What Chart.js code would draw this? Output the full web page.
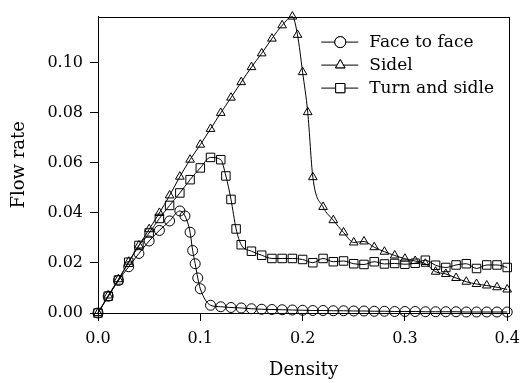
<!DOCTYPE html>
<html>
<head>
<meta charset="utf-8">
<script src="https://cdn.jsdelivr.net/npm/chart.js@4/dist/chart.umd.min.js"></script>
<style>
  body { margin: 0; background: #fff; }
  #wrap { width: 528px; height: 383px; }
</style>
</head>
<body>
<div id="wrap"><canvas id="flowChart" width="528" height="383"></canvas></div>
<script>
// Face to face
var faceX = [0, 0.01, 0.02, 0.03, 0.04, 0.05, 0.06, 0.07, 0.08, 0.085, 0.09, 0.0925, 0.095, 0.0975, 0.1,
  0.11, 0.12, 0.13, 0.14, 0.15, 0.16, 0.17, 0.18, 0.19, 0.2, 0.21, 0.22, 0.23, 0.24, 0.25, 0.26, 0.27,
  0.28, 0.29, 0.3, 0.31, 0.32, 0.33, 0.34, 0.35, 0.36, 0.37, 0.38, 0.39, 0.4];
var faceY = [0, 0.0067, 0.013, 0.0185, 0.0238, 0.0288, 0.033, 0.0368, 0.0408, 0.0388, 0.0323, 0.025, 0.0197, 0.014, 0.0097,
  0.0031, 0.0025, 0.0022, 0.002, 0.0017, 0.0015, 0.0014, 0.0013, 0.0012, 0.0011, 0.001, 0.001, 0.0009, 0.0009, 0.0008, 0.0008, 0.0007,
  0.0007, 0.0006, 0.0006, 0.0006, 0.0005, 0.0005, 0.0005, 0.0005, 0.0004, 0.0004, 0.0004, 0.0004, 0.0004];

// Sidel
var sidelX = [0, 0.01, 0.02, 0.03, 0.04, 0.05, 0.06, 0.07, 0.08, 0.09, 0.1, 0.11, 0.12, 0.13, 0.14, 0.15, 0.16, 0.17, 0.18, 0.19,
  0.195, 0.2, 0.205, 0.21, 0.22, 0.23, 0.24, 0.25, 0.26, 0.27, 0.28, 0.29, 0.3, 0.31, 0.32, 0.33, 0.34, 0.35, 0.36, 0.37, 0.38, 0.39, 0.4];
var sidelY = [0, 0.007, 0.0135, 0.0205, 0.027, 0.0335, 0.040, 0.047, 0.0545, 0.0613, 0.0673, 0.0736, 0.080, 0.0861, 0.0923, 0.0983, 0.1038, 0.1097, 0.115, 0.1185,
  0.1112, 0.0963, 0.0803, 0.0543, 0.0424, 0.0371, 0.0322, 0.0282, 0.0286, 0.0263, 0.0245, 0.023, 0.0217, 0.0208, 0.0197, 0.0165, 0.0156, 0.014, 0.0125, 0.0116, 0.011, 0.0103, 0.0094];

// Turn and sidle
var turnX = [0, 0.01, 0.02, 0.03, 0.04, 0.05, 0.06, 0.07, 0.08, 0.09, 0.1, 0.11, 0.12, 0.125, 0.13, 0.135, 0.14,
  0.15, 0.16, 0.17, 0.18, 0.19, 0.2, 0.21, 0.22, 0.23, 0.24, 0.25, 0.26, 0.27, 0.28, 0.29, 0.3, 0.31, 0.32, 0.33, 0.34, 0.35, 0.36, 0.37, 0.38, 0.39, 0.4];
var turnY = [0, 0.0067, 0.0132, 0.0203, 0.027, 0.032, 0.0378, 0.043, 0.048, 0.0533, 0.058, 0.0622, 0.0613, 0.0548, 0.0454, 0.0336, 0.0273,
  0.0247, 0.0231, 0.0218, 0.0218, 0.0218, 0.0214, 0.0201, 0.0218, 0.0205, 0.0208, 0.0197, 0.0194, 0.0205, 0.0196, 0.0198, 0.0195, 0.0199, 0.0211, 0.0191, 0.0182, 0.0192, 0.0197, 0.0178, 0.0192, 0.0192, 0.0182];

var xTicks = [0, 0.1, 0.2, 0.3, 0.4];
var yTicks = [0, 0.02, 0.04, 0.06, 0.08, 0.10];

function pairs(xs, ys) {
  return xs.map(function (x, i) { return { x: x, y: ys[i] }; });
}

Chart.defaults.font.family = "'DejaVu Serif', serif";
Chart.defaults.font.size = 16;
Chart.defaults.color = '#000';

function series(label, xs, ys, style, radius) {
  return {
    label: label,
    data: pairs(xs, ys),
    showLine: true,
    borderColor: '#000',
    borderWidth: 1,
    pointStyle: style,
    pointRadius: radius,
    pointBorderColor: '#000',
    pointBorderWidth: 1,
    pointBackgroundColor: 'rgba(0,0,0,0)',
    cubicInterpolationMode: 'monotone',
    clip: false
  };
}

// box around plot + legend inside top right corner
var framePlugin = {
  id: 'frame',
  afterDraw: function (chart) {
    var c = chart.ctx, a = chart.chartArea;
    c.save();
    c.strokeStyle = '#000';
    c.lineWidth = 1;
    c.strokeRect(Math.round(a.left) + 0.5, Math.round(a.top) + 0.5, Math.round(a.right - a.left), Math.round(a.bottom - a.top));

    var x0 = a.right - 188, y0 = a.top + 25;
    chart.data.datasets.forEach(function (ds, i) {
      var y = y0 + i * 23;
      c.beginPath();
      c.moveTo(x0, y + 0.5);
      c.lineTo(x0 + 37, y + 0.5);
      c.stroke();
      var opts = { pointStyle: ds.pointStyle, radius: ds.pointRadius + 0.5, borderWidth: 1 };
      c.fillStyle = '#fff';
      Chart.helpers.drawPoint(c, opts, x0 + 19, y + 0.5);
      c.fill();
      c.stroke();
      c.fillStyle = '#000';
      c.font = "17px 'DejaVu Serif', serif";
      c.textBaseline = 'middle';
      c.fillText(ds.label, x0 + 48, y + 1);
    });
    c.restore();
  }
};

new Chart(document.getElementById('flowChart'), {
  type: 'scatter',
  data: {
    datasets: [
      series('Face to face', faceX, faceY, 'circle', 5),
      series('Sidel', sidelX, sidelY, 'triangle', 5),
      series('Turn and sidle', turnX, turnY, 'rect', 6)
    ]
  },
  options: {
    responsive: false,
    animation: false,
    layout: { padding: { left: 0, right: 12, top: 11, bottom: 0 } },
    plugins: { legend: { display: false }, tooltip: { enabled: false } },
    scales: {
      x: {
        type: 'linear',
        min: 0,
        max: 0.402,
        afterFit: function (s) { s.height = 70; },
        afterBuildTicks: function (s) { s.ticks = xTicks.map(function (v) { return { value: v }; }); },
        ticks: { padding: 8, callback: function (v) { return v.toFixed(1); } },
        grid: { drawOnChartArea: false, drawTicks: true, tickLength: 8, color: '#000' },
        border: { display: true, color: '#000', width: 1 },
        title: { display: true, text: 'Density', font: { size: 18 }, padding: { top: 0, bottom: 2 } }
      },
      y: {
        min: 0,
        max: 0.1185,
        afterFit: function (s) { s.width = 98; },
        afterBuildTicks: function (s) { s.ticks = yTicks.map(function (v) { return { value: v }; }); },
        ticks: { padding: 7, callback: function (v) { return v.toFixed(2); } },
        grid: { drawOnChartArea: false, drawTicks: true, tickLength: 8, color: '#000' },
        border: { display: true, color: '#000', width: 1 },
        title: { display: true, text: 'Flow rate', font: { size: 18 }, padding: { top: 9, bottom: 0 } }
      }
    }
  },
  plugins: [framePlugin]
});
</script>
</body>
</html>
